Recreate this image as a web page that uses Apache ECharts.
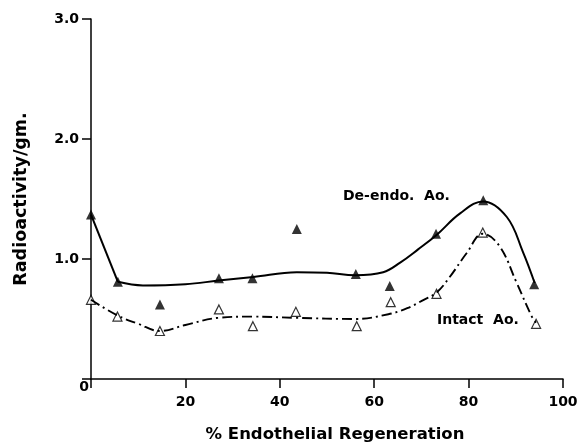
<!DOCTYPE html>
<html>
<head>
<meta charset="utf-8">
<script src="https://cdn.jsdelivr.net/npm/echarts@6/dist/echarts.min.js"></script>
<style>
  html, body { margin: 0; padding: 0; background: #fff; }
  #chart { width: 579px; height: 442px; }
</style>
</head>
<body>
<div id="chart"></div>
<script>
// measured points
var deEndoX = [0, 5.7, 14.6, 27.1, 34.2, 43.6, 56.1, 63.3, 73.1, 83.1, 93.9];
var deEndoY = [1.37, 0.81, 0.62, 0.84, 0.84, 1.25, 0.875, 0.775, 1.21, 1.49, 0.79];
var intactX = [0, 5.6, 14.6, 27.1, 34.3, 43.4, 56.3, 63.5, 73.2, 83.0, 94.3];
var intactY = [0.66, 0.52, 0.40, 0.58, 0.44, 0.56, 0.44, 0.64, 0.71, 1.22, 0.46];

// fitted curves; the first solid piece is a straight drop
var deEndoDropX = [0, 5.7];
var deEndoDropY = [1.37, 0.81];
var deEndoCurveX = [5.7, 11, 20, 27, 34.4, 43.6, 50, 56, 61.9, 65.5, 69.3, 73.2, 78.2, 83.1, 88.1, 91.5, 94];
var deEndoCurveY = [0.81, 0.78, 0.79, 0.82, 0.85, 0.89, 0.885, 0.865, 0.89, 0.97, 1.08, 1.20, 1.38, 1.48, 1.35, 1.06, 0.80];
var intactCurveX = [0, 5.6, 10, 14.6, 20, 27, 34.3, 43.4, 56, 63, 67, 70.5, 73.2, 76, 79.6, 83, 86.5, 90.2, 93.4, 94.3];
var intactCurveY = [0.66, 0.53, 0.46, 0.40, 0.45, 0.51, 0.52, 0.51, 0.50, 0.54, 0.59, 0.66, 0.72, 0.85, 1.05, 1.21, 1.11, 0.80, 0.52, 0.47];

var xTicks = [0, 20, 40, 60, 80, 100];
var yTicks = [0, 1, 2, 3];

function pairs(xs, ys) {
  var out = [];
  for (var i = 0; i < xs.length; i++) out.push([xs[i], ys[i]]);
  return out;
}

var font = 'DejaVu Sans';
var chart = echarts.init(document.getElementById('chart'));
chart.setOption({
  backgroundColor: '#fff',
  animation: false,
  grid: { left: 91, right: 16, top: 19, bottom: 63, containLabel: false, outerBoundsMode: 'none' },
  xAxis: {
    type: 'value',
    min: xTicks[0], max: xTicks[xTicks.length - 1], interval: 20,
    splitLine: { show: false },
    axisLine: { lineStyle: { color: '#000', width: 1.5 } },
    axisTick: { length: 9, lineStyle: { color: '#000', width: 1.5 } },
    axisLabel: {
      color: '#000', fontFamily: font, fontWeight: 'bold', fontSize: 14, margin: 16,
      formatter: function (v) { return v === 0 ? '' : String(v); }
    },
    name: '% Endothelial Regeneration',
    nameLocation: 'middle', nameGap: 47,
    nameTextStyle: { color: '#000', fontFamily: font, fontWeight: 'bold', fontSize: 16.5, padding: [0, 0, 0, 16] }
  },
  yAxis: {
    type: 'value',
    min: yTicks[0], max: yTicks[yTicks.length - 1], interval: 1,
    splitLine: { show: false },
    axisLine: { lineStyle: { color: '#000', width: 1.5 } },
    axisTick: { length: 9, lineStyle: { color: '#000', width: 1.5 } },
    axisLabel: {
      color: '#000', fontFamily: font, fontWeight: 'bold', fontSize: 14, margin: 2,
      formatter: function (v) { return v === 0 ? '{z|0}' : '{n|' + v.toFixed(1) + '}'; },
      rich: {
        n: { fontFamily: font, fontWeight: 'bold', fontSize: 14, color: '#000', padding: [0, 10, 0, 0] },
        z: { fontFamily: font, fontWeight: 'bold', fontSize: 14, color: '#000', padding: [16, 0, 0, 0] }
      }
    },
    name: 'Radioactivity/gm.',
    nameLocation: 'middle', nameGap: 61,
    nameTextStyle: { color: '#000', fontFamily: font, fontWeight: 'bold', fontSize: 17.5, padding: [0, 0, 0, 0] }
  },
  graphic: [
    { type: 'text', left: 343, top: 189, style: { text: 'De-endo.  Ao.', font: 'bold 14px "DejaVu Sans"', fill: '#000' } },
    { type: 'text', left: 437, top: 313, style: { text: 'Intact  Ao.', font: 'bold 14px "DejaVu Sans"', fill: '#000' } }
  ],
  series: [
    {
      type: 'line', data: pairs(deEndoDropX, deEndoDropY), showSymbol: false,
      lineStyle: { color: '#000', width: 2 }, silent: true
    },
    {
      type: 'line', data: pairs(deEndoCurveX, deEndoCurveY), smooth: 0.4, showSymbol: false,
      lineStyle: { color: '#000', width: 2 }, silent: true
    },
    {
      type: 'line', data: pairs(intactCurveX, intactCurveY), smooth: 0.4, showSymbol: false,
      lineStyle: { color: '#000', width: 1.9, type: [10, 4, 2, 4] }, silent: true
    },
    {
      type: 'scatter', data: pairs(deEndoX, deEndoY), symbol: 'triangle', symbolSize: 10,
      itemStyle: { color: '#000' }
    },
    {
      type: 'scatter', data: pairs(intactX, intactY), symbol: 'triangle', symbolSize: 9,
      itemStyle: { color: '#fff', borderColor: '#000', borderWidth: 1.2 }
    }
  ]
});
</script>
</body>
</html>
